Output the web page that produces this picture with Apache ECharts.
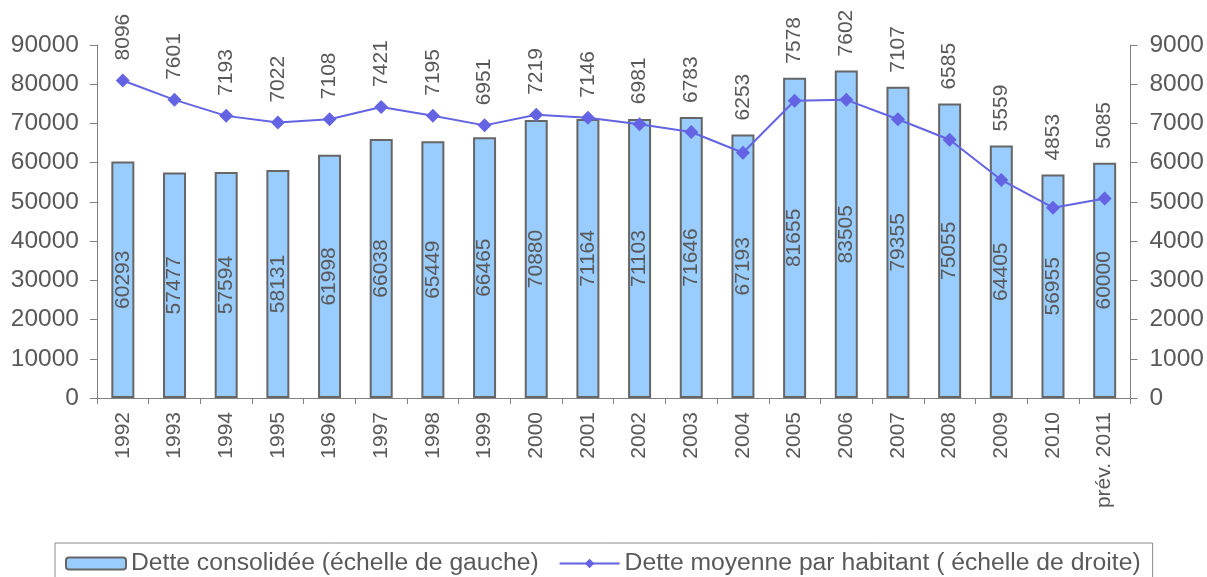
<!DOCTYPE html>
<html>
<head>
<meta charset="utf-8">
<script src="https://cdn.jsdelivr.net/npm/echarts@6/dist/echarts.min.js"></script>
<style>
  html, body { margin: 0; padding: 0; background: #fff; }
  #chart { width: 1207px; height: 577px; }
</style>
</head>
<body>
<div id="chart"></div>
<script>
// data
const years = ['1992', '1993', '1994', '1995', '1996', '1997', '1998', '1999', '2000', '2001',
  '2002', '2003', '2004', '2005', '2006', '2007', '2008', '2009', '2010', 'prév. 2011']
const detteConsolidee = [60293, 57477, 57594, 58131, 61998, 66038, 65449, 66465, 70880, 71164,
  71103, 71646, 67193, 81655, 83505, 79355, 75055, 64405, 56955, 60000]
const detteParHabitant = [8096, 7601, 7193, 7022, 7108, 7421, 7195, 6951, 7219, 7146,
  6981, 6783, 6253, 7578, 7602, 7107, 6585, 5559, 4853, 5085]

const TXT = '#595959'
const AXIS = '#808080'
const LINE = '#6363e3'
const FONT = 'Liberation Sans, Arial, sans-serif'

var chart = echarts.init(document.getElementById('chart'))

const valLabel = { fontSize: 24.5, color: TXT, fontFamily: FONT }

chart.setOption({
  animation: false,
  textStyle: { fontFamily: FONT, color: TXT },
  grid: { left: 97, right: 75, top: 45, bottom: 179 },
  legend: {
    left: 55, top: 543,
    padding: [8, 12, 12, 10],
    borderColor: '#8c8c8c', borderWidth: 1,
    itemGap: 20,
    itemWidth: 60, itemHeight: 12,
    textStyle: { fontSize: 24.7, color: TXT, fontFamily: FONT },
    data: ['Dette consolidée (échelle de gauche)', 'Dette moyenne par habitant ( échelle de droite)']
  },
  xAxis: {
    type: 'category',
    data: years,
    boundaryGap: true,
    axisLine: { lineStyle: { color: AXIS, width: 1 } },
    axisTick: { show: true, length: 6, lineStyle: { color: AXIS } },
    axisLabel: { rotate: 90, fontSize: 21, color: TXT, margin: 14, interval: 0, fontFamily: FONT }
  },
  yAxis: [
    {
      type: 'value', min: 0, max: 90000, interval: 10000,
      axisLine: { show: true, lineStyle: { color: AXIS } },
      axisTick: { show: true, length: 7, lineStyle: { color: AXIS } },
      splitLine: { show: false },
      axisLabel: Object.assign({ margin: 18, formatter: v => String(v) }, valLabel)
    },
    {
      type: 'value', min: 0, max: 9000, interval: 1000,
      axisLine: { show: true, lineStyle: { color: AXIS } },
      axisTick: { show: true, length: 7, lineStyle: { color: AXIS } },
      splitLine: { show: false },
      axisLabel: Object.assign({ margin: 19, formatter: v => String(v) }, valLabel)
    }
  ],
  series: [
    {
      name: 'Dette consolidée (échelle de gauche)',
      type: 'bar',
      yAxisIndex: 0,
      data: detteConsolidee,
      barWidth: 23,
      itemStyle: { color: '#99ccff', borderColor: '#666666', borderWidth: 2 },
      label: {
        show: true, position: 'inside', rotate: 90,
        fontSize: 21, color: TXT, fontFamily: FONT
      }
    },
    {
      name: 'Dette moyenne par habitant ( échelle de droite)',
      type: 'line',
      yAxisIndex: 1,
      data: detteParHabitant,
      symbol: 'diamond',
      symbolSize: 14,
      lineStyle: { color: LINE, width: 2 },
      itemStyle: { color: LINE },
      label: {
        show: true, position: 'top', rotate: 90, distance: 13,
        align: 'left', verticalAlign: 'middle',
        fontSize: 21, color: TXT, fontFamily: FONT
      }
    }
  ]
})

// line labels sit above the bar when the bar is taller than the point (like Excel did)
const lineData = detteParHabitant.map((v, i) => {
  const py = chart.convertToPixel({ yAxisIndex: 1 }, v)
  const by = chart.convertToPixel({ yAxisIndex: 0 }, detteConsolidee[i])
  const d = Math.max(13, py - by + 7)
  return { value: v, label: { distance: d } }
})
chart.setOption({ series: [{}, { data: lineData }] })
</script>
</body>
</html>
